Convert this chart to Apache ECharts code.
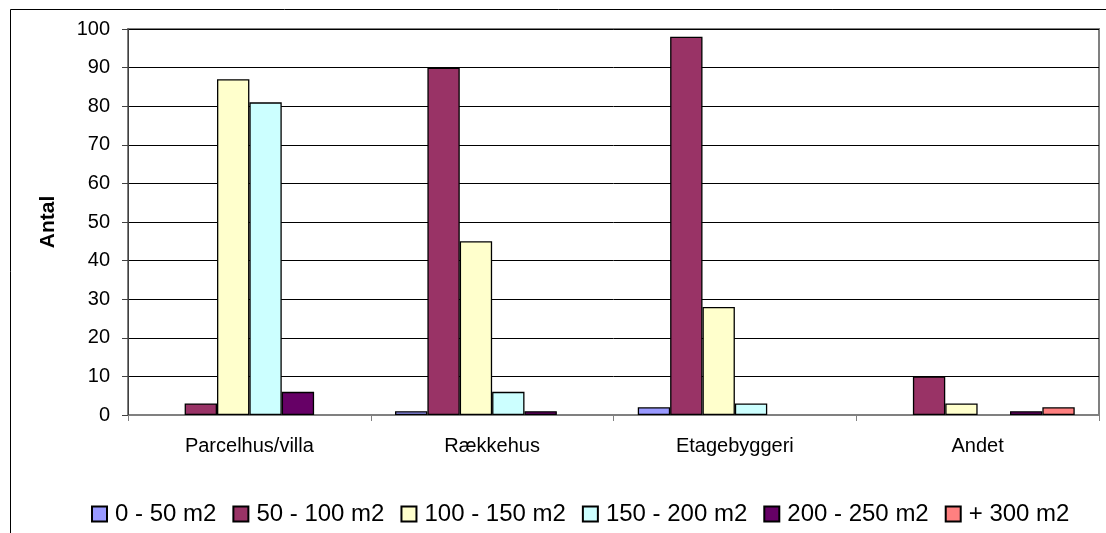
<!DOCTYPE html>
<html>
<head>
<meta charset="utf-8">
<script src="https://cdn.jsdelivr.net/npm/echarts@6/dist/echarts.min.js"></script>
<style>
html,body{margin:0;padding:0;background:#fff;}
#chart{width:1106px;height:533px;}
</style>
</head>
<body>
<div id="chart"></div>
<script>
const categories = ['Parcelhus/villa', 'Rækkehus', 'Etagebyggeri', 'Andet'];
const seriesNames = ['0 - 50 m2', '50 - 100 m2', '100 - 150 m2', '150 - 200 m2', '200 - 250 m2', '+ 300 m2'];
const s0_50 = [0, 1, 2, 0];
const s50_100 = [3, 90, 98, 10];
const s100_150 = [87, 45, 28, 3];
const s150_200 = [81, 6, 3, 0];
const s200_250 = [6, 1, 0, 1];
const s300plus = [0, 0, 0, 2];
const yTicks = { min: 0, max: 100, interval: 10 };
const yTitle = 'Antal';

const colors = ['#9999FF', '#993366', '#FFFFCC', '#CCFFFF', '#660066', '#FF8080'];
const allData = [s0_50, s50_100, s100_150, s150_200, s200_250, s300plus];
const FONT = '"Liberation Sans", Arial, sans-serif';

const chart = echarts.init(document.getElementById('chart'), null, { renderer: 'canvas' });
chart.setOption({
  animation: false,
  backgroundColor: '#fff',
  textStyle: { fontFamily: FONT },
  graphic: [{
    type: 'rect', silent: true, z: -1,
    shape: { x: 10.5, y: 9.5, width: 1200, height: 600 },
    style: { fill: 'none', stroke: '#000', lineWidth: 1 }
  }],
  grid: {
    left: 128, top: 29, right: 7, bottom: 118,
    show: true, borderColor: '#808080', borderWidth: 2, backgroundColor: 'transparent'
  },
  legend: {
    left: 86, top: 497,
    itemWidth: 15, itemHeight: 15, itemGap: 16,
    icon: 'rect',
    textStyle: { fontSize: 24, color: '#000', fontFamily: FONT, padding: [0, 0, 0, 3] },
    data: seriesNames
  },
  xAxis: {
    type: 'category',
    data: categories,
    axisLine: { lineStyle: { color: '#808080', width: 1 } },
    axisTick: { show: true, length: 6, lineStyle: { color: '#808080' } },
    axisLabel: { fontSize: 20, color: '#000', margin: 21, fontFamily: FONT },
    splitLine: { show: false }
  },
  yAxis: {
    type: 'value',
    min: yTicks.min, max: yTicks.max, interval: yTicks.interval,
    name: yTitle,
    nameLocation: 'middle',
    nameRotate: 90,
    nameGap: 69,
    nameTextStyle: { fontSize: 21, fontWeight: 'bold', color: '#000', fontFamily: FONT },
    axisLine: { show: true, lineStyle: { color: '#404040', width: 1 } },
    axisTick: { show: true, length: 6, lineStyle: { color: '#404040' } },
    axisLabel: { fontSize: 20, color: '#000', margin: 18, fontFamily: FONT },
    splitLine: { show: true, lineStyle: { color: '#000', width: 1 } }
  },
  series: seriesNames.map((name, i) => ({
    name: name,
    type: 'bar',
    barGap: '0%',
    barCategoryGap: '20%',
    data: allData[i].map(v => (v === 0 ? '-' : v)),
    itemStyle: { color: colors[i], borderColor: '#000', borderWidth: 1.3 }
  }))
});
</script>
</body>
</html>
